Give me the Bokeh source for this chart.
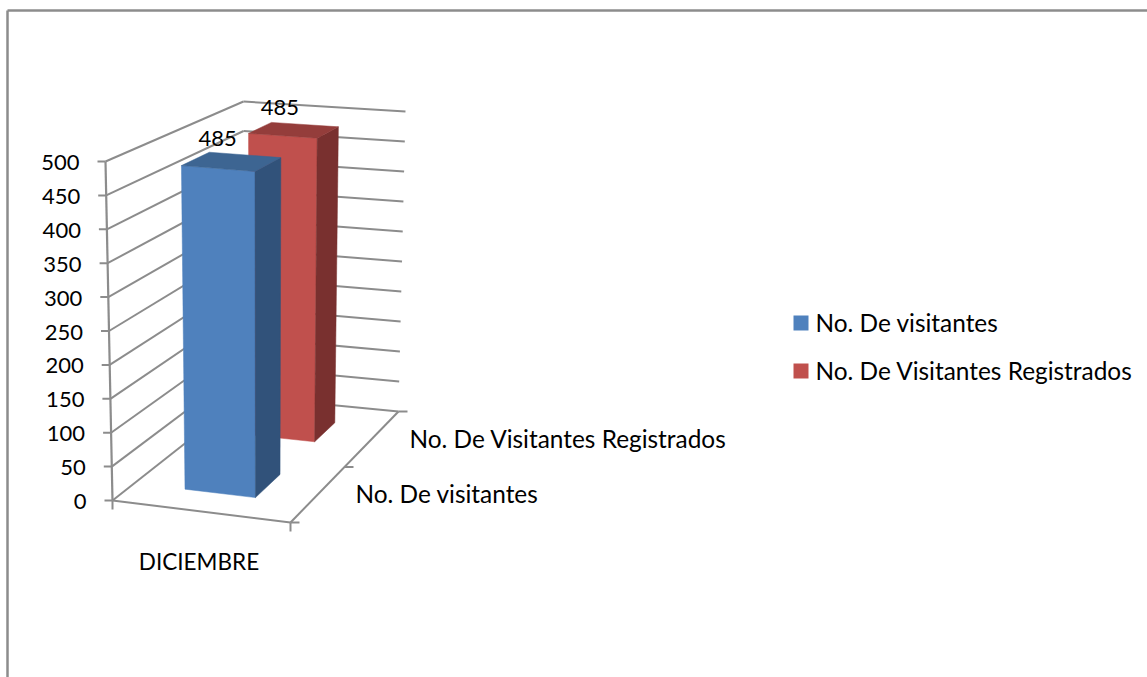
from bokeh.plotting import figure
from bokeh.models import Range1d
from bokeh.core.properties import value
from bokeh.embed import file_html
from bokeh.resources import INLINE

# ---- data ----
categories = ["DICIEMBRE"]
series_names = ["No. De visitantes", "No. De Visitantes Registrados"]
series_values = [485, 485]
tick_values = [0, 50, 100, 150, 200, 250, 300, 350, 400, 450, 500]
tick_labels = ["0", "50", "100", "150", "200", "250", "300", "350", "400", "450", "500"]

# ---- style ----
FRONT = ["#4F81BD", "#C0504D"]
TOP = ["#3D6592", "#943D3B"]
SIDE = ["#31527A", "#79302F"]
GRID = "#8C8C8C"
FONT = value("Lato")
FS_TEXT = "24.4px"
FS_NUM = "22px"
FS_CAT = "22.5px"

W, H = 1147, 677
p = figure(width=W, height=H, x_range=Range1d(0, W), y_range=Range1d(H, 0),
           output_backend="svg", toolbar_location=None, min_border=0,
           x_axis_type=None, y_axis_type=None)
p.grid.visible = False
p.outline_line_color = None
p.background_fill_color = "white"

# 3-D box: corners of the plot cube on the page
FLOOR = dict(fl=(112, 500), fr=(290, 522), bl=(244, 396), br=(398, 411))
ROOF = dict(fl=(105, 161), fr=(291, 176), bl=(243, 101), br=(405, 111))
VMAX = tick_values[-1]


def bilinear(c, u, w):
    return tuple(
        c["fl"][i] * (1 - u) * (1 - w) + c["fr"][i] * u * (1 - w)
        + c["bl"][i] * (1 - u) * w + c["br"][i] * u * w
        for i in (0, 1)
    )


def proj(u, val, w):
    a = bilinear(FLOOR, u, w)
    b = bilinear(ROOF, u, w)
    t = val / VMAX
    return (a[0] + (b[0] - a[0]) * t, a[1] + (b[1] - a[1]) * t)


def seg(a, b, width=2.0):
    p.line([a[0], b[0]], [a[1], b[1]], line_color=GRID, line_width=width)


def poly(pts, color):
    p.patch([q[0] for q in pts], [q[1] for q in pts], fill_color=color, line_color=color, line_width=0.5)


def text(x, y, s, align="left", size=FS_TEXT):
    p.text([x], [y], text=[s], text_font=FONT, text_font_size=size, text_color="#000000",
           text_align=align, text_baseline="middle")


# chart frame
p.line([7, 7], [H, 10], line_color=GRID, line_width=2.5)
p.line([7, W], [10, 10], line_color=GRID, line_width=2.5)

# walls
for v, lab in zip(tick_values, tick_labels):
    fl = proj(0, v, 0)
    bl = proj(0, v, 1)
    br = proj(1, v, 1)
    seg(fl, bl)
    seg(bl, br)
    seg((fl[0] - 8, fl[1]), fl)
    text(fl[0] - 26, fl[1] + 1, lab, "right", FS_NUM)
seg(proj(0, 0, 0), proj(0, VMAX, 0), 2.2)

# floor
seg(proj(0, 0, 0), proj(1, 0, 0))
seg(proj(1, 0, 0), proj(1, 0, 1))
for w in (0, 0.5, 1):
    q = proj(1, 0, w)
    seg(q, (q[0] + 9, q[1]))
q = proj(1, 0, 0)
seg(q, (q[0], q[1] + 9))
q = proj(0, 0, 0)
seg(q, (q[0], q[1] + 9))

# bars, back to front
U0, U1 = 0.29, 0.695
DEPTH = [(0.167, 0.38), (0.68, 0.855)]
for i in (1, 0):
    v = series_values[i]
    w0, w1 = DEPTH[i]
    poly([proj(U0, 0, w0), proj(U1, 0, w0), proj(U1, v, w0), proj(U0, v, w0)], FRONT[i])
    poly([proj(U1, 0, w0), proj(U1, 0, w1), proj(U1, v, w1), proj(U1, v, w0)], SIDE[i])
    poly([proj(U0, v, w0), proj(U1, v, w0), proj(U1, v, w1), proj(U0, v, w1)], TOP[i])

# data labels
for i in (1, 0):
    w0, w1 = DEPTH[i]
    c = proj((U0 + U1) / 2, series_values[i], (w0 + w1) / 2)
    text(c[0] - 14, c[1] - 23, str(series_values[i]), "center", FS_NUM)

# category and depth labels
text(198.5, 561, categories[0], "center", FS_CAT)
text(355, 493, series_names[0])
text(409, 438, series_names[1])

# legend
for name, color, y in zip(series_names, FRONT, (322, 370)):
    p.quad(left=[793], right=[808], top=[y - 7], bottom=[y + 8], fill_color=color, line_color=None)
    text(815, y, name)

open("out.html", "w").write(file_html(p, INLINE))
